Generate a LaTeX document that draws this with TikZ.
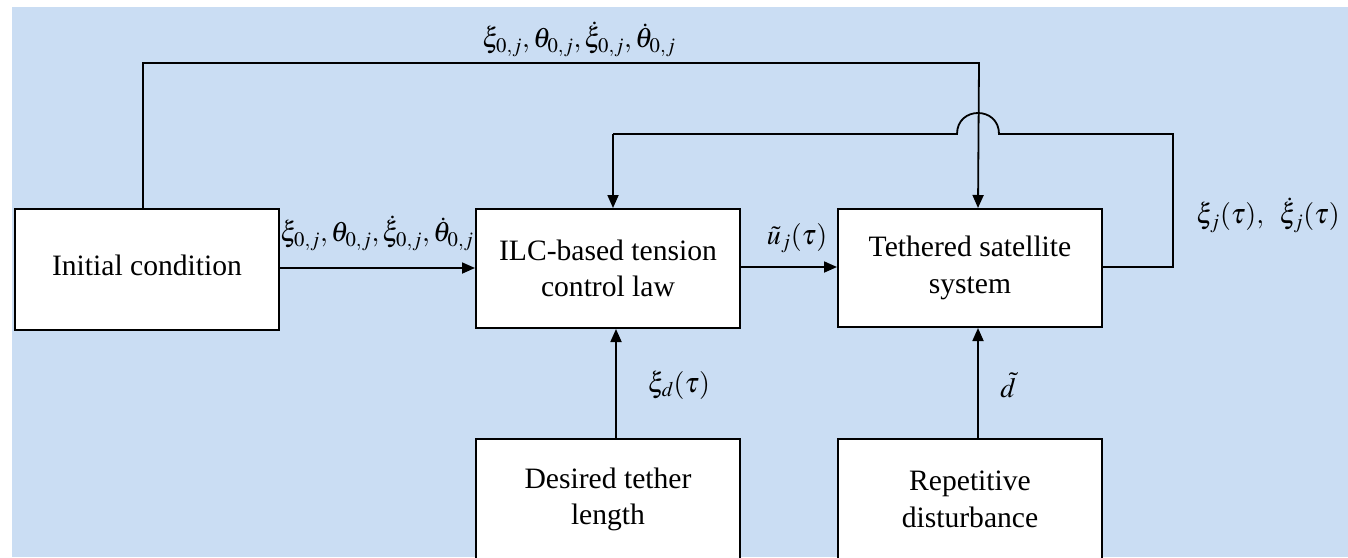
\documentclass[tikz,border=0pt]{standalone}
\IfFileExists{mathptmx.sty}{\usepackage{mathptmx}}{}
\usepackage[no-math]{fontspec}
\setmainfont{Liberation Serif}
\usetikzlibrary{arrows.meta}
\definecolor{bgblue}{RGB}{202,221,243}
\begin{document}
\begin{tikzpicture}[x=1pt,y=-1pt,
  every node/.style={font=\fontsize{29.6}{36.5}\selectfont},
  blk/.style={draw=black,line width=2pt,fill=white,minimum width=264pt,align=center,inner sep=0pt},
  con/.style={line width=1.8pt},
  arr/.style={con,-{Triangle[length=13pt,width=11pt]}},
  lbl/.style={inner sep=0pt,font=\fontsize{28}{34}\selectfont}]
\useasboundingbox (0,0) rectangle (1348,557);
\fill[white] (0,0) rectangle (1348,557);
\fill[bgblue] (12,7) rectangle (1348,557);

\node[blk,minimum height=121pt] (ini) at (147,269.5) {\raisebox{8pt}{Initial condition}};
\node[blk,minimum height=119pt] (ilc) at (608,268.5) {ILC-based tension\\control law};
\node[blk,minimum height=118pt] (tss) at (970,268) {Tethered satellite\\system};
\node[blk,minimum height=121pt] (des) at (608,499.5) {Desired tether\\length};
\node[blk,minimum height=121pt] (rep) at (970,499.5) {Repetitive\\disturbance};

% labels
\node[lbl] (l1) at (579,39) {$\xi_{0,j},\theta_{0,j},\dot{\xi}_{0,j},\dot{\theta}_{0,j}$};
\node[lbl] (l2) at (377,233) {$\xi_{0,j},\theta_{0,j},\dot{\xi}_{0,j},\dot{\theta}_{0,j}$};
\node[lbl] (l3) at (797,238) {$\tilde{u}_j(\tau)$};
\node[lbl] (l4) at (679,385) {$\xi_d(\tau)$};
\node[lbl] (l5) at (1008,385) {$\tilde{d}$};
\node[lbl] (l6) at (1268,215) {$\xi_j(\tau),\;\;\dot{\xi}_j(\tau)$};

% forward arrows
\draw[arr] (ini.east |- 0,268) -- (ilc.west |- 0,268);
\draw[arr] (ilc.east |- 0,267) -- (tss.west |- 0,267);
\draw[arr] ([xshift=8pt]des.north) -- ([xshift=8pt]ilc.south);
\draw[arr] ([xshift=8pt]rep.north) -- ([xshift=8pt]tss.south);

% initial condition to tethered system (over the top)
\draw[arr] ([xshift=-4pt]ini.north) |- (979,63) -- ([xshift=8pt]tss.north);

% feedback with jump
\draw[con] (tss.east |- 0,267) -| (1173,134) -- (999,134)
  .. controls (999,106) and (957,106) .. (957,134) -- (613,134);
\draw[arr] (613,134) -- ([xshift=5pt]ilc.north);
\end{tikzpicture}
\end{document}
